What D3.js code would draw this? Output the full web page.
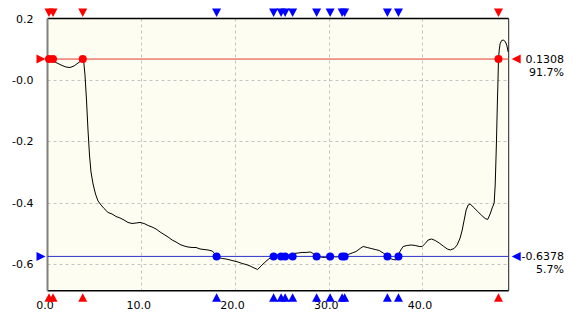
<!DOCTYPE html>
<html>
<head>
<meta charset="utf-8">
<script src="https://cdn.jsdelivr.net/npm/d3@7"></script>
<style>
  html, body { margin: 0; padding: 0; background: #ffffff; }
  svg { display: block; }
  text { font-family: "DejaVu Sans", Verdana, sans-serif; font-size: 11px; fill: #000; }
</style>
</head>
<body>
<svg id="chart" width="573" height="320"></svg>
<script>
// Trace samples: position along the run and measured value
const traceX = [0.05,0.27,0.48,0.69,1.12,1.55,1.97,2.40,2.83,3.26,3.58,3.74,3.85,4.00,4.16,4.32,4.48,4.64,4.86,5.12,
  5.39,5.71,6.03,6.46,6.88,7.31,7.74,8.16,8.59,9.02,9.45,9.87,10.30,10.73,11.15,11.58,12.01,12.43,12.86,13.29,
  13.71,14.14,14.57,14.99,15.42,15.85,16.28,16.70,17.13,17.56,17.78,18.20,18.63,19.05,19.48,19.90,20.33,20.76,21.18,21.61,
  22.04,22.41,22.79,23.11,23.53,23.96,24.60,25.03,25.46,25.88,26.31,26.74,27.16,27.59,28.02,28.34,28.66,29.08,29.51,29.94,
  30.36,30.79,31.22,31.64,32.07,32.50,32.92,33.35,33.67,34.10,34.52,34.95,35.38,35.81,36.23,36.55,36.87,37.19,37.41,37.62,
  37.94,38.37,38.79,39.22,39.65,39.97,40.29,40.61,40.98,41.36,41.78,42.21,42.64,42.96,43.38,43.70,44.02,44.24,44.45,44.66,
  44.88,45.09,45.41,45.84,46.27,46.69,46.96,47.22,47.44,47.65,47.76,47.84,47.90,47.95,48.00,48.06,48.11,48.19,48.29,48.45,
  48.61,48.83,48.99,49.15];
const traceY = [0.0615,0.0664,0.0664,0.0599,0.0534,0.0469,0.0420,0.0403,0.0452,0.0550,0.0615,0.0680,0.0640,0.0159,-0.0656,-0.1633,-0.2448,-0.3002,-0.3393,-0.3719,
  -0.3947,-0.4077,-0.4191,-0.4321,-0.4370,-0.4452,-0.4501,-0.4566,-0.4647,-0.4680,-0.4664,-0.4647,-0.4680,-0.4745,-0.4794,-0.4859,-0.4957,-0.5038,-0.5120,-0.5217,
  -0.5283,-0.5364,-0.5413,-0.5446,-0.5462,-0.5462,-0.5511,-0.5527,-0.5543,-0.5576,-0.5641,-0.5788,-0.5820,-0.5837,-0.5869,-0.5902,-0.5934,-0.5983,-0.6016,-0.6065,
  -0.6130,-0.6179,-0.6065,-0.5967,-0.5853,-0.5755,-0.5700,-0.5749,-0.5716,-0.5706,-0.5657,-0.5641,-0.5624,-0.5624,-0.5608,-0.5657,-0.5739,-0.5771,-0.5788,-0.5771,
  -0.5755,-0.5771,-0.5755,-0.5739,-0.5690,-0.5641,-0.5592,-0.5494,-0.5429,-0.5462,-0.5494,-0.5527,-0.5560,-0.5641,-0.5722,-0.5820,-0.5853,-0.5869,-0.5771,-0.5576,
  -0.5429,-0.5397,-0.5380,-0.5397,-0.5429,-0.5429,-0.5331,-0.5217,-0.5185,-0.5234,-0.5315,-0.5413,-0.5511,-0.5543,-0.5494,-0.5380,-0.5152,-0.4892,-0.4566,-0.4240,
  -0.4077,-0.4044,-0.4142,-0.4272,-0.4403,-0.4517,-0.4549,-0.4370,-0.4174,-0.4012,-0.3425,-0.2611,-0.1959,-0.1307,-0.0656,-0.0004,0.0648,0.0974,0.1185,0.1283,
  0.1299,0.1251,0.1137,0.0908];

// Axis ticks
const xTickValues = [0, 10, 20, 30, 40];
const xTickLabels = ["0.0", "10.0", "20.0", "30.0", "40.0"];
const yTickValues = [0.2, 0.0, -0.2, -0.4, -0.6];
const yTickLabels = ["0.2", "-0.0", "-0.2", "-0.4", "-0.6"];

// Cursor levels: readout value and position within the trace range
const cursorNames = ["upper", "lower"];
const cursorValues = ["0.1308", "-0.6378"];
const cursorPercents = [91.7, 5.7];
// Positions where the trace crosses each cursor level
const upperCrossings = [0.16, 0.59, 3.76, 48.11];
const lowerCrossings = [18.04, 24.12, 24.92, 25.35, 26.15, 28.71, 30.15, 31.43, 31.70, 36.26, 37.44];

const svg = d3.select("#chart");
const plot = { left: 47.5, right: 508.7, top: 18.5, bottom: 290.7 };

const x = d3.scaleLinear().domain([0, 49.2]).range([plot.left, plot.right]);
const y = d3.scaleLinear().domain([-0.687, 0.2]).range([plot.bottom, plot.top]);

// Plot background
svg.append("rect")
  .attr("x", plot.left).attr("y", plot.top)
  .attr("width", plot.right - plot.left).attr("height", plot.bottom - plot.top)
  .attr("fill", "#fdfdf1");

// Dashed grid
const grid = svg.append("g").attr("stroke", "#c4c4c4").attr("stroke-width", 1).attr("stroke-dasharray", "3,3");
xTickValues.filter(v => v > 0).forEach(v => {
  grid.append("line").attr("x1", Math.round(x(v)) + 0.5).attr("x2", Math.round(x(v)) + 0.5)
    .attr("y1", plot.top).attr("y2", plot.bottom);
});
yTickValues.filter(v => v < 0.2).forEach(v => {
  grid.append("line").attr("y1", Math.round(y(v)) + 0.5).attr("y2", Math.round(y(v)) + 0.5)
    .attr("x1", plot.left).attr("x2", plot.right);
});

// Frame
svg.append("line").attr("x1", plot.left).attr("x2", plot.right).attr("y1", plot.top).attr("y2", plot.top)
  .attr("stroke", "#000").attr("stroke-width", 1.5);
svg.append("line").attr("x1", plot.left).attr("x2", plot.right).attr("y1", plot.bottom).attr("y2", plot.bottom)
  .attr("stroke", "#000").attr("stroke-width", 1.5);
svg.append("line").attr("x1", plot.right).attr("x2", plot.right).attr("y1", plot.top).attr("y2", plot.bottom)
  .attr("stroke", "#222").attr("stroke-width", 1);
svg.append("line").attr("x1", plot.left).attr("x2", plot.left).attr("y1", plot.top).attr("y2", plot.bottom)
  .attr("stroke", "#808080").attr("stroke-width", 2);

// Axis labels
const xAxis = d3.axisBottom(x).tickValues(xTickValues).tickSize(0).tickPadding(0)
  .tickFormat((d, i) => xTickLabels[i]);
const gx = svg.append("g").attr("transform", `translate(-3,${plot.bottom + 10})`).call(xAxis);
gx.select(".domain").remove();
gx.selectAll("text").attr("font-size", 11).attr("font-family", "DejaVu Sans, Verdana, sans-serif").attr("fill", "#000");

const yAxis = d3.axisLeft(y).tickValues(yTickValues).tickSize(0).tickPadding(0)
  .tickFormat((d, i) => yTickLabels[i]);
const gy = svg.append("g").attr("transform", `translate(${plot.left - 14},0)`).call(yAxis);
gy.select(".domain").remove();
gy.selectAll("text").attr("font-size", 11).attr("font-family", "DejaVu Sans, Verdana, sans-serif").attr("fill", "#000");

// Trace
const trace = traceX.map((v, i) => [v, traceY[i]]);
const tMin = d3.min(traceY), tMax = d3.max(traceY);
svg.append("path")
  .datum(trace)
  .attr("fill", "none").attr("stroke", "#000").attr("stroke-width", 1)
  .attr("d", d3.line().x(d => x(d[0])).y(d => y(d[1])));

// Cursors
const cursorStyle = [
  { line: "#e33a2e", mark: "#ff0000", crossings: upperCrossings },
  { line: "#2a36c8", mark: "#0000ff", crossings: lowerCrossings }
];
cursorNames.forEach((name, i) => {
  const level = tMin + cursorPercents[i] / 100 * (tMax - tMin);
  const ly = y(level);
  const st = cursorStyle[i];
  const g = svg.append("g").attr("class", "cursor-" + name);

  g.append("line").attr("x1", plot.left).attr("x2", plot.right).attr("y1", ly).attr("y2", ly)
    .attr("stroke", st.line).attr("stroke-width", 1);

  // end markers
  g.append("path").attr("fill", st.mark)
    .attr("d", `M${plot.left - 2},${ly} L${plot.left - 11},${ly - 4.5} L${plot.left - 11},${ly + 4.5} Z`);
  g.append("path").attr("fill", st.mark)
    .attr("d", `M${plot.right + 3},${ly} L${plot.right + 12},${ly - 4.5} L${plot.right + 12},${ly + 4.5} Z`);

  // crossing points and their edge markers
  st.crossings.forEach(c => {
    const cx = x(c);
    g.append("circle").attr("cx", cx).attr("cy", ly).attr("r", 4).attr("fill", st.mark);
    g.append("path").attr("fill", st.mark)
      .attr("d", `M${cx},${plot.top - 1.5} L${cx - 4.5},${plot.top - 10} L${cx + 4.5},${plot.top - 10} Z`);
    g.append("path").attr("fill", st.mark)
      .attr("d", `M${cx},${plot.bottom + 2.5} L${cx - 4.5},${plot.bottom + 11} L${cx + 4.5},${plot.bottom + 11} Z`);
  });

  // readouts
  g.append("text").attr("x", 564).attr("y", ly + 4).attr("text-anchor", "end").text(cursorValues[i]);
  g.append("text").attr("x", 564).attr("y", ly + 17).attr("text-anchor", "end").text(cursorPercents[i] + "%");
});
</script>
</body>
</html>
